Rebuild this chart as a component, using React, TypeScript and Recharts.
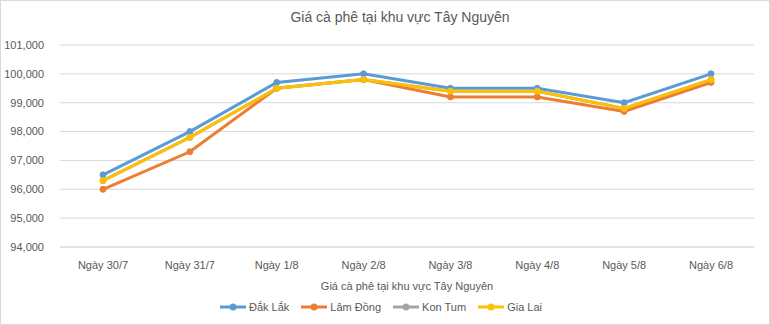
import React from 'react'
import {
  LineChart,
  Line,
  XAxis,
  YAxis,
  CartesianGrid,
  Legend,
} from 'recharts'

const days = ['Ngày 30/7', 'Ngày 31/7', 'Ngày 1/8', 'Ngày 2/8', 'Ngày 3/8', 'Ngày 4/8', 'Ngày 5/8', 'Ngày 6/8']
const dakLak = [96500, 98000, 99700, 100000, 99500, 99500, 99000, 100000]
const lamDong = [96000, 97300, 99500, 99800, 99200, 99200, 98700, 99700]
const konTum = [96300, 97800, 99500, 99800, 99400, 99400, 98800, 99800]
const giaLai = [96300, 97800, 99500, 99800, 99400, 99400, 98800, 99800]
const yTicks = [94000, 95000, 96000, 97000, 98000, 99000, 100000, 101000]

const data = days.map((day, i) => ({
  day,
  dakLak: dakLak[i],
  lamDong: lamDong[i],
  konTum: konTum[i],
  giaLai: giaLai[i],
}))

const series = [
  { key: 'dakLak', name: 'Đắk Lắk', color: '#5B9BD5' },
  { key: 'lamDong', name: 'Lâm Đồng', color: '#ED7D31' },
  { key: 'konTum', name: 'Kon Tum', color: '#A5A5A5' },
  { key: 'giaLai', name: 'Gia Lai', color: '#FFC000' },
]

const FONT = '"Liberation Sans", Arial, sans-serif'
const TEXT = '#595959'

const renderLegend = () => (
  <div style={{ display: 'flex', justifyContent: 'center', gap: 12, fontFamily: FONT, fontSize: 11, color: TEXT, marginLeft: 8 }}>
    {series.map(s => (
      <div key={s.key} style={{ display: 'flex', alignItems: 'center', gap: 3 }}>
        <svg width={26} height={10}>
          <line x1={0} y1={5} x2={26} y2={5} stroke={s.color} strokeWidth={3} />
          <circle cx={13} cy={5} r={3.5} fill={s.color} />
        </svg>
        <span>{s.name}</span>
      </div>
    ))}
  </div>
)

export default function App() {
  return (
    <div style={{ position: 'absolute', left: 0, top: 0, width: 770, height: 325 }}>
      <div
        style={{
          position: 'absolute',
          left: 0,
          top: 0,
          width: 768,
          height: 323,
          border: '1px solid #D9D9D9',
          background: '#fff',
        }}
      />
      <div
        style={{
          position: 'absolute',
          top: 9,
          left: 60,
          width: 680,
          textAlign: 'center',
          fontFamily: FONT,
          fontSize: 14,
          color: TEXT,
        }}
      >
        Giá cà phê tại khu vực Tây Nguyên
      </div>
      <div style={{ position: 'absolute', left: 0, top: 0 }}>
        <LineChart width={770} height={325} data={data} margin={{ top: 45, right: 16, bottom: 0, left: 0 }}>
          <CartesianGrid vertical={false} stroke="#D9D9D9" />
          <XAxis
            dataKey="day"
            tickLine={false}
            axisLine={{ stroke: '#D9D9D9' }}
            padding={{ left: 43, right: 43 }}
            tick={{ fill: TEXT, fontSize: 11, fontFamily: FONT }}
            tickMargin={8}
            height={54}
            label={{ value: 'Giá cà phê tại khu vực Tây Nguyên', position: 'insideBottom', offset: 11, fill: TEXT, fontSize: 11, fontFamily: FONT }}
          />
          <YAxis
            width={60}
            domain={[94000, 101000]}
            ticks={yTicks}
            tickLine={false}
            axisLine={false}
            tick={{ fill: TEXT, fontSize: 11, fontFamily: FONT }}
            tickFormatter={(v: number) => v.toLocaleString('en-US')}
            tickMargin={10}
          />
          <Legend verticalAlign="bottom" content={renderLegend} wrapperStyle={{ height: 24 }} />
          {series.map(s => (
            <Line
              key={s.key}
              type="linear"
              dataKey={s.key}
              name={s.name}
              stroke={s.color}
              strokeWidth={3}
              dot={{ r: 3, fill: s.color, stroke: s.color, strokeWidth: 1 }}
              activeDot={false}
              isAnimationActive={false}
            />
          ))}
        </LineChart>
      </div>
    </div>
  )
}
